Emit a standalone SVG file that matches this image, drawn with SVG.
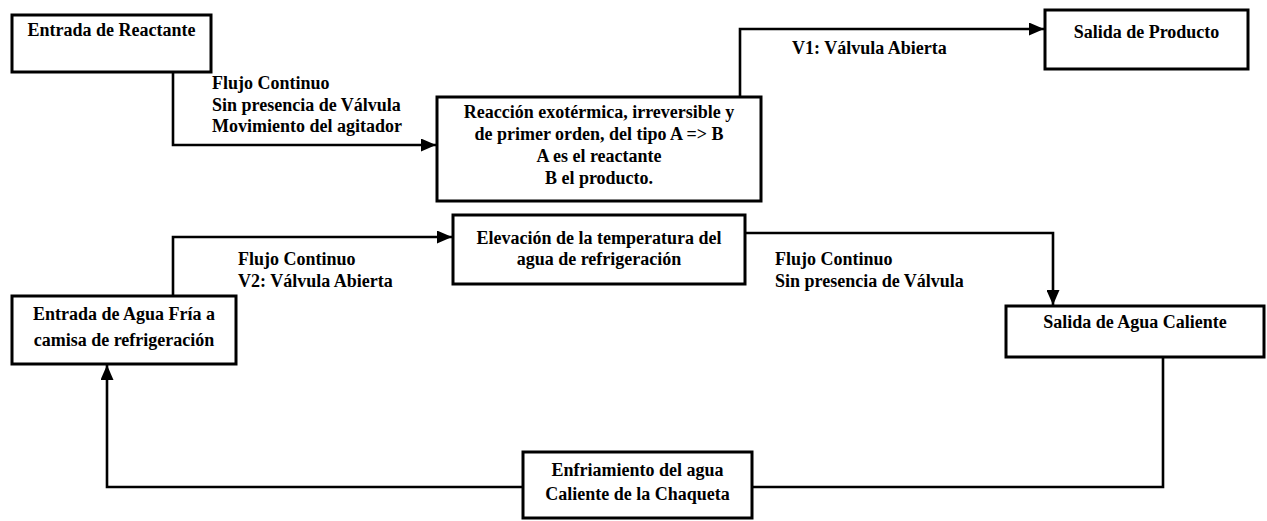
<svg xmlns="http://www.w3.org/2000/svg" width="1267" height="521" viewBox="0 0 1267 521">
<style>
.box{fill:#fff;stroke:#000;stroke-width:3}
.t{font-family:"Liberation Serif","Times New Roman",serif;font-weight:bold;font-size:18px;fill:#000}
.c{text-anchor:middle}
.ln{fill:none;stroke:#000;stroke-width:2.6}
</style>
<defs>
<marker id="ah" markerUnits="userSpaceOnUse" markerWidth="15" markerHeight="13" refX="15" refY="6.5" orient="auto">
<path d="M0,0 L15,6.5 L0,13 z" fill="#000"/>
</marker>
</defs>
<rect width="1267" height="521" fill="#fff"/>
<g id="connectors">
<path class="ln" d="M173,72 V145 H436" marker-end="url(#ah)"/>
<path class="ln" d="M740,97 V29 H1044" marker-end="url(#ah)"/>
<path class="ln" d="M173,296 V237 H452" marker-end="url(#ah)"/>
<path class="ln" d="M745,233 H1053 V305" marker-end="url(#ah)"/>
<path class="ln" d="M1163,357 V487 H752"/>
<path class="ln" d="M523,487 H107 V365" marker-end="url(#ah)"/>
</g>
<g id="labels">
<text class="t" x="212" y="89">Flujo Continuo</text>
<text class="t" x="212" y="111">Sin presencia de Válvula</text>
<text class="t" x="212" y="132">Movimiento del agitador</text>
<text class="t" x="792" y="54">V1: Válvula Abierta</text>
<text class="t" x="238" y="265">Flujo Continuo</text>
<text class="t" x="238" y="287">V2: Válvula Abierta</text>
<text class="t" x="775" y="265">Flujo Continuo</text>
<text class="t" x="775" y="287">Sin presencia de Válvula</text>
</g>
<g id="n1">
<rect class="box" x="12" y="15" width="199" height="57"/>
<text class="t c" x="111.5" y="36">Entrada de Reactante</text>
</g>
<g id="n2">
<rect class="box" x="437" y="97" width="324" height="104"/>
<text class="t c" x="599" y="118">Reacción exotérmica, irreversible y</text>
<text class="t c" x="599" y="140">de primer orden, del tipo A =&gt; B</text>
<text class="t c" x="599" y="162">A es el reactante</text>
<text class="t c" x="599" y="184">B el producto.</text>
</g>
<g id="n3">
<rect class="box" x="1045" y="10" width="203" height="59"/>
<text class="t c" x="1146.5" y="38">Salida de Producto</text>
</g>
<g id="n4">
<rect class="box" x="453" y="215" width="292" height="69"/>
<text class="t c" x="599" y="244">Elevación de la temperatura del</text>
<text class="t c" x="599" y="265">agua de refrigeración</text>
</g>
<g id="n5">
<rect class="box" x="12" y="296" width="224" height="68"/>
<text class="t c" x="124" y="320">Entrada de Agua Fría a</text>
<text class="t c" x="124" y="346">camisa de refrigeración</text>
</g>
<g id="n6">
<rect class="box" x="1006" y="306" width="258" height="51"/>
<text class="t c" x="1135" y="328">Salida de Agua Caliente</text>
</g>
<g id="n7">
<rect class="box" x="523" y="452" width="229" height="66"/>
<text class="t c" x="637.5" y="476">Enfriamiento del agua</text>
<text class="t c" x="637.5" y="500">Caliente de la Chaqueta</text>
</g>
</svg>
